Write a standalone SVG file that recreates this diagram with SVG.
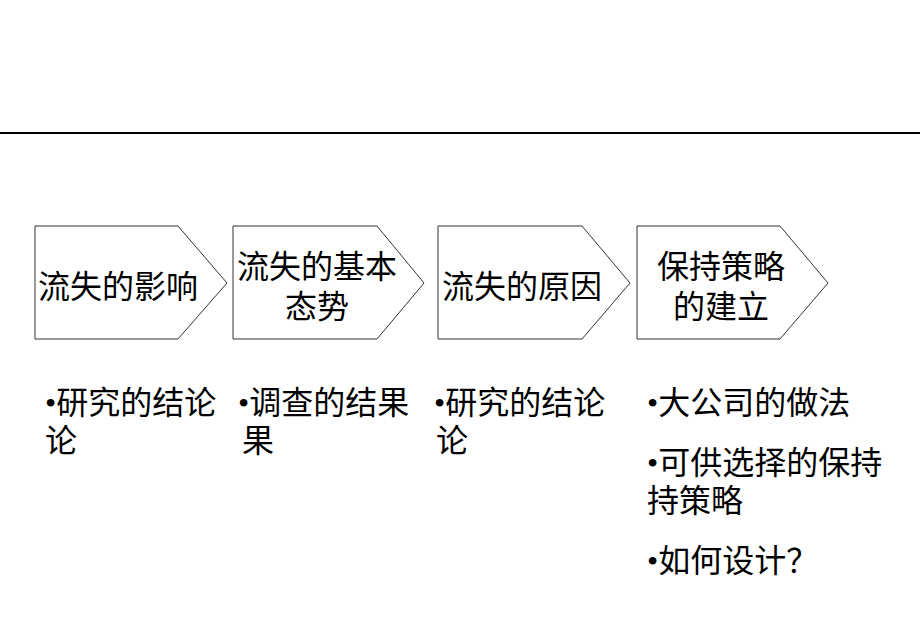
<svg xmlns="http://www.w3.org/2000/svg" width="920" height="637" viewBox="0 0 920 637">
<style>
.shape{fill:#ffffff;stroke:#333333;stroke-width:1}
.t{font-family:"Liberation Serif","Noto Sans CJK SC",serif;font-size:32px;fill:#000000}
.m{text-anchor:middle}
</style>
<rect x="0" y="0" width="920" height="637" fill="#ffffff"/>
<g id="connectors">
<line x1="0" y1="133" x2="920" y2="133" stroke="#000000" stroke-width="2"/>
</g>
<g id="node1">
<polygon class="shape" points="35,226 178,226 227,283 178,339 35,339"/>
<text class="t" x="38" y="298">流失的影响</text>
</g>
<g id="node2">
<polygon class="shape" points="233,226 377,226 424,283 377,339 233,339"/>
<text class="t m" x="317" y="278">流失的基本</text>
<text class="t m" x="317" y="318">态势</text>
</g>
<g id="node3">
<polygon class="shape" points="438,226 582,226 630,283 582,339 438,339"/>
<text class="t" x="442" y="298">流失的原因</text>
</g>
<g id="node4">
<polygon class="shape" points="637,226 780,226 828,283 780,339 637,339"/>
<text class="t m" x="721" y="278">保持策略</text>
<text class="t m" x="721" y="318">的建立</text>
</g>
<g id="list1">
<text class="t" x="45" y="414">•研究的结论</text>
<text class="t" x="45" y="452">论</text>
</g>
<g id="list2">
<text class="t" x="238" y="414">•调查的结果</text>
<text class="t" x="242" y="452">果</text>
</g>
<g id="list3">
<text class="t" x="434" y="414">•研究的结论</text>
<text class="t" x="436" y="452">论</text>
</g>
<g id="list4">
<text class="t" x="647" y="414">•大公司的做法</text>
<text class="t" x="647" y="474">•可供选择的保持</text>
<text class="t" x="647" y="512">持策略</text>
<text class="t" x="647" y="572">•如何设计？</text>
</g>
</svg>
